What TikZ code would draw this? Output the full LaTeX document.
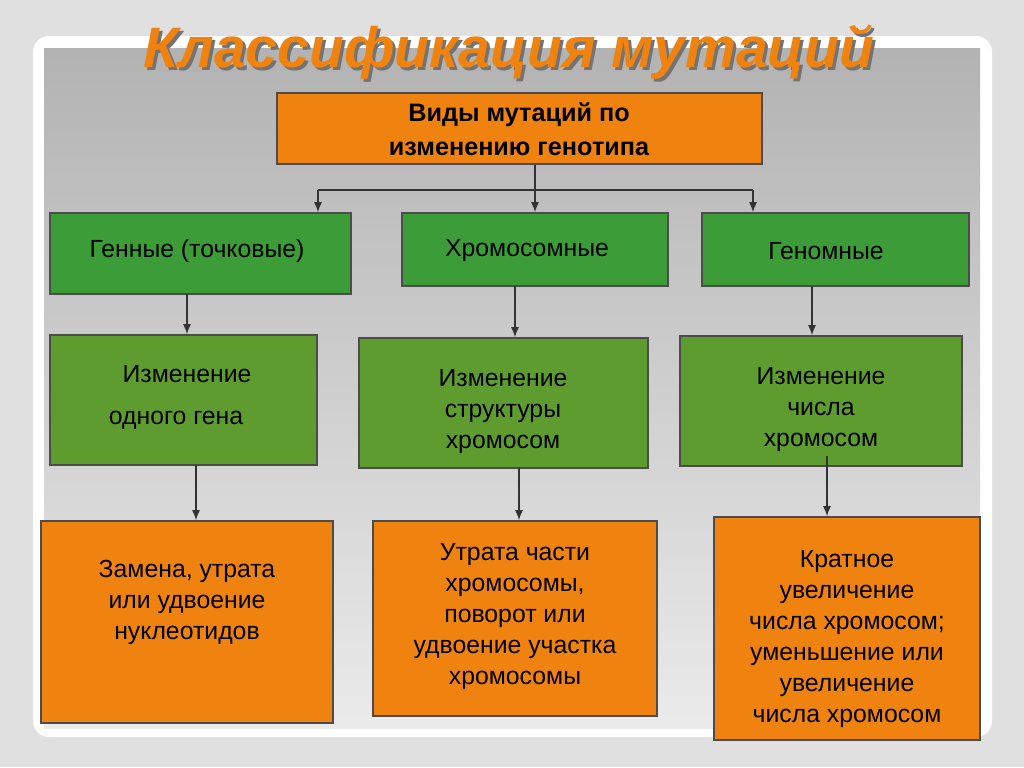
\documentclass[tikz,border=0pt]{standalone}
\usepackage{fontspec}
\setmainfont{Liberation Sans}
\usetikzlibrary{arrows.meta}
\definecolor{org}{HTML}{F0830F}
\definecolor{grA}{HTML}{3C9C38}
\definecolor{grB}{HTML}{5E9C30}
\tikzset{
  bx/.style={draw=black!70,line width=0.8pt,inner sep=0pt,align=center},
  ob/.style={bx,fill=org},
  ga/.style={bx,fill=grA},
  gb/.style={bx,fill=grB},
  tx/.style={align=center,font=\fontsize{12.4}{15.5}\selectfont},
  ar/.style={-{Latex[length=5pt,width=4pt]},line width=0.7pt,black!80}
}
\newcommand{\bxat}[6]{\node[#1,minimum width=#4*0.5pt-#2*0.5pt,minimum height=#5*0.5pt-#3*0.5pt] (#6) at ({(#2+#4)/2},{(#3+#5)/2})}
\begin{document}
\begin{tikzpicture}[x=0.5pt,y=-0.5pt]
\useasboundingbox (0,0) rectangle (1024,767);
\fill[black!12] (0,0) rectangle (1024,767);
\fill[white,rounded corners=8pt] (33,36) rectangle (992,737);
\shade[top color=black!30,bottom color=black!8] (44,48) rectangle (980,728);
\node[font=\bfseries\itshape\fontsize{28.5}{28.5}\selectfont,text=black!55] at (512,55) {Классификация мутаций};
\node[font=\bfseries\itshape\fontsize{28.5}{28.5}\selectfont,text=org] at (509,52) {Классификация мутаций};
\bxat{ob}{277}{93}{762}{164}{top} {};
\node[tx,font=\bfseries\fontsize{12.6}{17}\selectfont] at (519,129) {Виды мутаций  по\\изменению генотипа};
\bxat{ga}{50}{213}{351}{294}{g1} {};
\node[tx] at (197,251) {Генные (точковые)};
\bxat{ga}{402}{213}{668}{286}{g2} {};
\node[tx] at (527,251) {Хромосомные};
\bxat{ga}{702}{213}{969}{286}{g3} {};
\node[tx] at (826,251) {Геномные};
\bxat{gb}{50}{335}{317}{465}{h1} {};
\node[tx] at (187,374) {Изменение};
\node[tx] at (176,420) {одного гена};
\bxat{gb}{359}{338}{648}{468}{h2} {};
\node[tx,anchor=north] at (503,362) {Изменение\\структуры\\хромосом};
\bxat{gb}{680}{336}{962}{466}{h3} {};
\node[tx,anchor=north] at (821,360) {Изменение\\числа\\хромосом};
\bxat{ob}{41}{521}{333}{723}{o1} {};
\node[tx,anchor=north] at (187,553) {Замена, утрата\\или удвоение\\нуклеотидов};
\bxat{ob}{373}{521}{657}{716}{o2} {};
\node[tx,anchor=north] at (515,536) {Утрата части\\хромосомы,\\поворот или\\удвоение участка\\хромосомы};
\bxat{ob}{714}{517}{980}{740}{o3} {};
\node[tx,anchor=north] at (847,543) {Кратное\\увеличение\\числа хромосом;\\уменьшение или\\увеличение\\числа хромосом};
\coordinate (j) at (535,190);
\coordinate (l) at (318,190);
\coordinate (r) at (753,190);
\draw[line width=0.7pt,black!80] (top.south -| j) -- (j) (l) -- (r);
\draw[ar] (l) -- (l |- g1.north);
\draw[ar] (j) -- (j |- g2.north);
\draw[ar] (r) -- (r |- g3.north);
\draw[ar] (187,294) coordinate (a1) -- (a1 |- h1.north);
\draw[ar] (515,286) coordinate (a2) -- (a2 |- h2.north);
\draw[ar] (812,286) coordinate (a3) -- (a3 |- h3.north);
\draw[ar] (196,465) coordinate (b1) -- (b1 |- o1.north);
\draw[ar] (519,468) coordinate (b2) -- (b2 |- o2.north);
\draw[ar] (827,456) coordinate (b3) -- (b3 |- o3.north);
\end{tikzpicture}
\end{document}
